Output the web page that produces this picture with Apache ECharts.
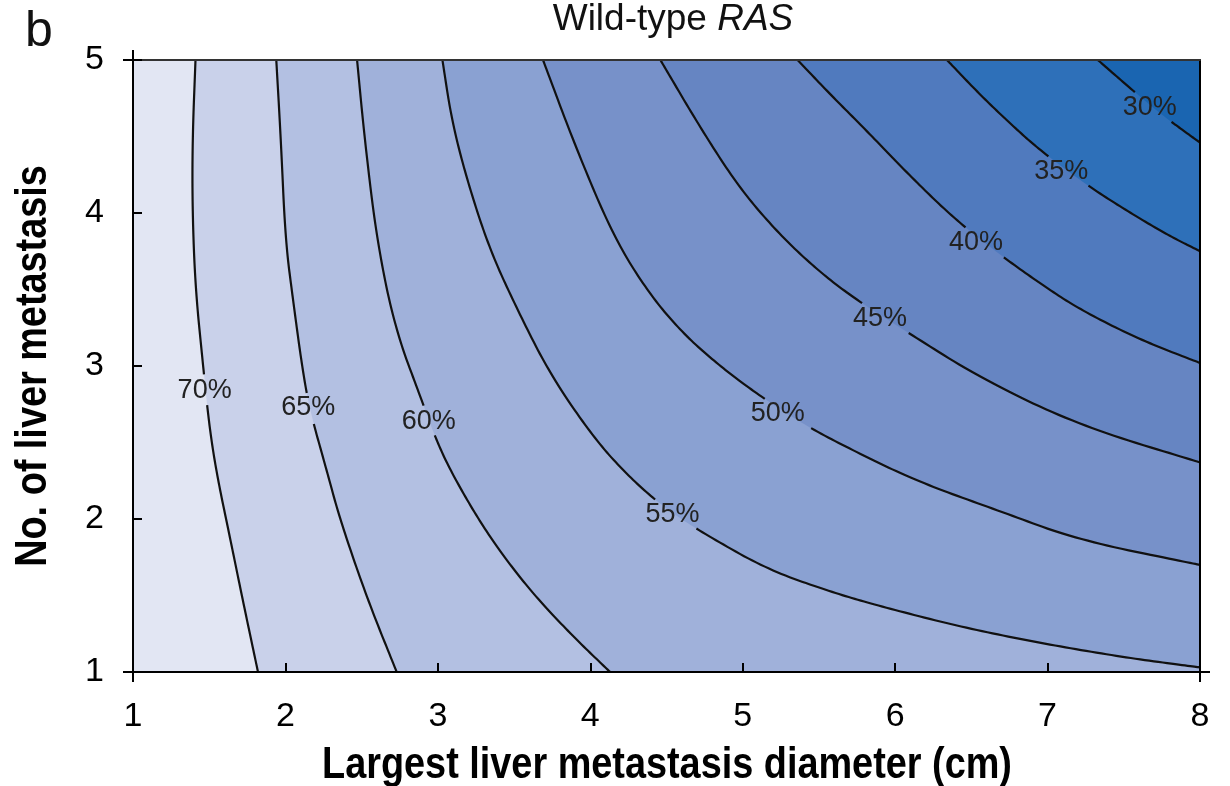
<!DOCTYPE html>
<html>
<head>
<meta charset="utf-8">
<script src="https://cdn.jsdelivr.net/npm/echarts@6/dist/echarts.min.js"></script>
<style>
html, body { margin: 0; padding: 0; background: #fff; }
#main { width: 1230px; height: 786px; }
</style>
</head>
<body>
<div id="main"></div>
<script>
// axis ticks
var xTicks = [1, 2, 3, 4, 5, 6, 7, 8];
var yTicks = [1, 2, 3, 4, 5];

// contour levels (survival), from outer left to upper right
var levels = ['70%', '65%', '60%', '55%', '50%', '45%', '40%', '35%', '30%'];

// contour lines: [diameter (cm), no. of metastases]
var c70 = [[1.41, 5], [1.39, 4.48], [1.39, 4], [1.41, 3.5], [1.46, 3], [1.50, 2.61], [1.55, 2.29], [1.64, 1.86], [1.72, 1.47], [1.82, 1]];
var c65 = [[1.94, 5], [1.97, 4.48], [2.00, 3.82], [2.05, 3.43], [2.11, 2.99], [2.16, 2.71], [2.27, 2.32], [2.36, 1.99], [2.54, 1.47], [2.73, 1]];
var c60 = [[2.47, 5], [2.52, 4.48], [2.60, 3.82], [2.72, 3.24], [2.90, 2.76], [2.98, 2.54], [3.08, 2.32], [3.27, 1.99], [3.45, 1.73], [3.66, 1.47], [3.91, 1.21], [4.13, 1]];
var c55 = [[3.03, 5], [3.09, 4.61], [3.19, 4.22], [3.34, 3.76], [3.53, 3.35], [3.74, 2.94], [4.03, 2.52], [4.26, 2.27], [4.49, 2.07], [4.72, 1.92], [5.16, 1.67], [5.59, 1.52], [5.90, 1.43], [6.45, 1.29], [7.00, 1.18], [7.54, 1.09], [8, 1.03]];
var c50 = [[3.69, 5], [3.90, 4.44], [4.15, 3.85], [4.38, 3.48], [4.61, 3.21], [4.85, 3.00], [5.09, 2.82], [5.41, 2.61], [5.78, 2.42], [6.16, 2.24], [6.69, 2.05], [7.21, 1.86], [8, 1.70]];
var c45 = [[4.46, 5], [4.72, 4.56], [4.98, 4.16], [5.25, 3.85], [5.51, 3.61], [5.75, 3.43], [6.05, 3.24], [6.56, 2.92], [7.21, 2.61], [8, 2.37]];
var c40 = [[5.36, 5], [5.57, 4.78], [5.82, 4.53], [6.10, 4.24], [6.38, 3.97], [6.67, 3.74], [6.95, 3.54], [7.21, 3.37], [7.61, 3.17], [8, 3.02]];
var c35 = [[6.34, 5], [6.56, 4.77], [6.76, 4.58], [6.95, 4.41], [7.26, 4.18], [7.56, 3.99], [7.80, 3.85], [8, 3.75]];
var c30 = [[7.33, 5], [7.56, 4.80], [7.74, 4.65], [7.82, 4.59], [8, 4.46]];
var contours = [c70, c65, c60, c55, c50, c45, c40, c35, c30];

// where the level labels sit
var labelAt = [[1.47, 2.84], [2.15, 2.73], [2.94, 2.64], [4.54, 2.03], [5.23, 2.69], [5.90, 3.31], [6.53, 3.81], [7.09, 4.27], [7.67, 4.69]];

// fill colours, band 0 = left of 70%, band 9 = beyond 30%
var bandColors = ['#e2e6f3', '#c9d1ea', '#b3c0e2', '#a0b1da', '#8aa1d2', '#7791c9', '#6685c2', '#507abe', '#2e70b9', '#1a65b1'];

var font = '"Liberation Sans", Arial, sans-serif';

// chaikin corner cutting in pixel space, ends kept
function smoothPts(pts) {
    var cur = pts;
    for (var it = 0; it < 4; it++) {
        var nxt = [cur[0]];
        for (var i = 0; i < cur.length - 1; i++) {
            var a = cur[i], b = cur[i + 1];
            nxt.push([0.75 * a[0] + 0.25 * b[0], 0.75 * a[1] + 0.25 * b[1]]);
            nxt.push([0.25 * a[0] + 0.75 * b[0], 0.25 * a[1] + 0.75 * b[1]]);
        }
        nxt.push(cur[cur.length - 1]);
        cur = nxt;
    }
    return cur;
}

function pixLine(api, line) {
    return smoothPts(line.map(function (p) { return api.coord(p); }));
}

function renderBand(params, api) {
    var k = params.dataIndex;
    var tl = api.coord([1, 5]), br = api.coord([8, 1]);
    if (k === 0) {
        return {
            type: 'rect',
            shape: { x: tl[0], y: tl[1], width: br[0] - tl[0], height: br[1] - tl[1] },
            style: { fill: bandColors[0] }
        };
    }
    var line = contours[k - 1];
    var pts = pixLine(api, line);
    var last = line[line.length - 1];
    if (last[1] <= 1) pts.push(api.coord([8, 1]));
    pts.push(api.coord([8, 5]));
    return {
        type: 'polygon',
        shape: { points: pts },
        style: { fill: bandColors[k] }
    };
}

function renderLine(params, api) {
    var k = params.dataIndex;
    var pts = pixLine(api, contours[k]);
    var c = api.coord(labelAt[k]);
    var hw = 31, hh = 14;
    var segs = [], cur = [];
    pts.forEach(function (p) {
        if (Math.abs(p[0] - c[0]) < hw && Math.abs(p[1] - c[1]) < hh) {
            if (cur.length > 1) segs.push(cur);
            cur = [];
        } else {
            cur.push(p);
        }
    });
    if (cur.length > 1) segs.push(cur);
    var children = segs.map(function (s) {
        return { type: 'polyline', shape: { points: s }, style: { stroke: '#111', lineWidth: 2.2, fill: null } };
    });
    children.push({
        type: 'text',
        x: c[0], y: c[1],
        style: {
            text: levels[k], font: '27px ' + font, fill: '#222',
            align: 'center', verticalAlign: 'middle', textAlign: 'center', textVerticalAlign: 'middle'
        }
    });
    return { type: 'group', children: children };
}

var chart = echarts.init(document.getElementById('main'), null, { renderer: 'canvas' });

var axisCommon = {
    type: 'value',
    interval: 1,
    z: 10,
    splitLine: { show: false },
    axisLine: { lineStyle: { color: '#000', width: 2 } },
    axisTick: { inside: true, length: 9, lineStyle: { color: '#000', width: 2 } },
    axisLabel: { fontSize: 34, color: '#000', fontFamily: font }
};

// short outside ticks at the frame corners
function cornerAxis(pos, min, max, vals) {
    return {
        type: 'value', min: min, max: max, position: pos, z: 10,
        axisLine: { show: false }, axisLabel: { show: false }, splitLine: { show: false },
        axisTick: { show: true, inside: false, length: 10, customValues: vals, lineStyle: { color: '#000', width: 2 } }
    };
}

var option = {
    animation: false,
    backgroundColor: '#fff',
    title: [{
        text: '{a|Wild-type }{b|RAS}',
        left: 668, top: -4, textAlign: 'center',
        textStyle: {
            rich: {
                a: { fontSize: 37, fontFamily: font, fontWeight: 'normal', color: '#111' },
                b: { fontSize: 37, fontFamily: font, fontWeight: 'normal', fontStyle: 'italic', color: '#111' }
            }
        }
    }, {
        text: 'b', left: 20, top: 2,
        textStyle: { fontSize: 50, fontWeight: 'normal', fontFamily: font, color: '#111' }
    }],
    grid: { left: 133, right: 30, top: 60, bottom: 114 },
    graphic: [{
        type: 'text', x: 667, y: 766, scaleX: 0.86,
        style: {
            text: 'Largest liver metastasis diameter (cm)', font: 'bold 44px ' + font, fill: '#000',
            align: 'center', verticalAlign: 'middle'
        }
    }, {
        type: 'text', x: 34, y: 366, rotation: Math.PI / 2, scaleX: 0.86,
        style: {
            text: 'No. of liver metastasis', font: 'bold 44px ' + font, fill: '#000',
            align: 'center', verticalAlign: 'middle'
        }
    }],
    xAxis: [
        Object.assign({}, axisCommon, {
            min: 1, max: 8, position: 'bottom',
            axisLabel: Object.assign({}, axisCommon.axisLabel, {
                margin: 28,
                formatter: function (v) { return xTicks.indexOf(v) >= 0 ? String(v) : ''; }
            })
        }),
        { type: 'value', min: 1, max: 8, position: 'top', z: 10,
          axisLine: { lineStyle: { color: '#333', width: 2 } },
          axisTick: { show: false }, axisLabel: { show: false }, splitLine: { show: false } },
        cornerAxis('bottom', 1, 8, [1, 8]),
        cornerAxis('top', 1, 8, [1])
    ],
    yAxis: [
        Object.assign({}, axisCommon, {
            min: 1, max: 5, position: 'left',
            axisLabel: Object.assign({}, axisCommon.axisLabel, {
                margin: 29,
                formatter: function (v) { return yTicks.indexOf(v) >= 0 ? String(v) : ''; }
            })
        }),
        { type: 'value', min: 1, max: 5, position: 'right', z: 10,
          axisLine: { lineStyle: { color: '#000', width: 2 } },
          axisTick: { show: false }, axisLabel: { show: false }, splitLine: { show: false } },
        cornerAxis('left', 1, 5, [1, 5]),
        cornerAxis('right', 1, 5, [1])
    ],
    series: [{
        type: 'custom',
        name: 'bands',
        clip: true,
        z: 1,
        renderItem: renderBand,
        data: bandColors.map(function (c, i) { return [i]; }),
        encode: { x: -1, y: -1 },
        silent: true
    }, {
        type: 'custom',
        name: 'contours',
        clip: true,
        z: 2,
        renderItem: renderLine,
        data: levels.map(function (l, i) { return [i]; }),
        encode: { x: -1, y: -1 },
        silent: true
    }]
};

chart.setOption(option);
</script>
</body>
</html>
